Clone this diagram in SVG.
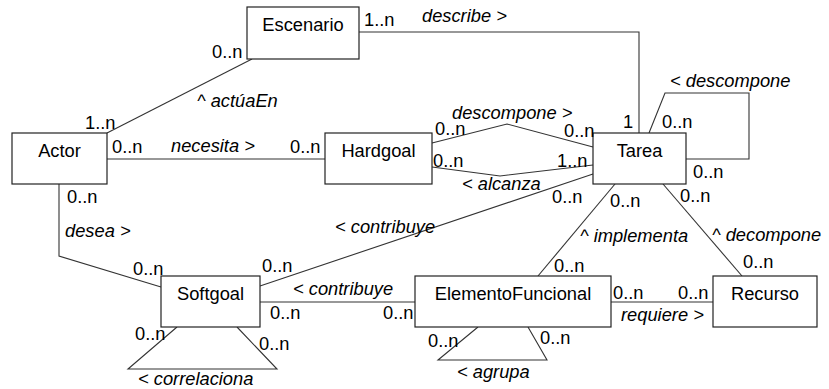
<svg xmlns="http://www.w3.org/2000/svg" width="829" height="389" viewBox="0 0 829 389">
<style>
text{font-family:"Liberation Sans",Arial,sans-serif;font-size:18.3px;fill:#000}
.i{font-style:italic}
.n{text-anchor:middle}
rect{fill:#fff;stroke:#222;stroke-width:1.2}
#connectors polyline,#connectors line{fill:none;stroke:#333;stroke-width:1.1}
</style>
<rect x="0" y="0" width="829" height="389" style="stroke:none"/>
<g id="connectors">
<polyline points="359,32 639,32 639,133"/>
<line x1="107" y1="133" x2="252" y2="59"/>
<line x1="107" y1="159" x2="325" y2="159"/>
<polyline points="432,143 507,124 593,147"/>
<polyline points="432,167 500,176 593,165"/>
<polyline points="649,133 665,93 749,93 749,159 686,159"/>
<line x1="593" y1="174" x2="260" y2="286"/>
<polyline points="59,184 59,256 161,287"/>
<line x1="260" y1="302" x2="415" y2="302"/>
<line x1="615" y1="184" x2="538" y2="276"/>
<line x1="663" y1="184" x2="742" y2="276"/>
<line x1="611" y1="302" x2="713" y2="302"/>
<polyline points="177,327 128,369 277,369 237,327"/>
<polyline points="478,327 438,360 547,360 528,327"/>
</g>
<g id="Escenario"><rect x="247" y="7" width="112" height="52"/><text class="n" x="303" y="31">Escenario</text></g>
<g id="Actor"><rect x="12" y="133" width="95" height="51"/><text class="n" x="59.5" y="157">Actor</text></g>
<g id="Hardgoal"><rect x="325" y="133" width="107" height="51"/><text class="n" x="378.5" y="157">Hardgoal</text></g>
<g id="Tarea"><rect x="593" y="133" width="93" height="51"/><text class="n" x="639.5" y="157">Tarea</text></g>
<g id="Softgoal"><rect x="161" y="276" width="99" height="51"/><text class="n" x="210.5" y="300">Softgoal</text></g>
<g id="ElementoFuncional"><rect x="415" y="276" width="196" height="51"/><text class="n" x="513" y="300">ElementoFuncional</text></g>
<g id="Recurso"><rect x="713" y="276" width="104" height="51"/><text class="n" x="765" y="300">Recurso</text></g>
<g id="labels">
<text x="364" y="26">1..n</text>
<text class="i" x="422" y="22">describe &gt;</text>
<text x="212" y="58">0..n</text>
<text class="i" x="197" y="107">^ actúaEn</text>
<text x="85" y="129">1..n</text>
<text x="112" y="153">0..n</text>
<text class="i" x="171" y="152">necesita &gt;</text>
<text x="290" y="153">0..n</text>
<text class="i" x="452" y="119">descompone &gt;</text>
<text x="435" y="135">0..n</text>
<text x="564" y="137">0..n</text>
<text x="433" y="167">0..n</text>
<text x="557" y="167">1..n</text>
<text class="i" x="462" y="190">&lt; alcanza</text>
<text x="623" y="128">1</text>
<text x="662" y="128">0..n</text>
<text class="i" x="670" y="87">&lt; descompone</text>
<text x="693" y="178">0..n</text>
<text x="552" y="203">0..n</text>
<text x="610" y="207">0..n</text>
<text x="680" y="202">0..n</text>
<text class="i" x="580" y="242">^ implementa</text>
<text class="i" x="712" y="241">^ decompone</text>
<text x="554" y="272">0..n</text>
<text x="743" y="268">0..n</text>
<text x="613" y="299">0..n</text>
<text x="678" y="299">0..n</text>
<text class="i" x="621" y="321">requiere &gt;</text>
<text x="383" y="319">0..n</text>
<text class="i" x="293" y="295">&lt; contribuye</text>
<text x="270" y="319">0..n</text>
<text x="262" y="272">0..n</text>
<text class="i" x="335" y="233">&lt; contribuye</text>
<text x="133" y="275">0..n</text>
<text class="i" x="65" y="237">desea &gt;</text>
<text x="67" y="203">0..n</text>
<text x="135" y="340">0..n</text>
<text x="259" y="350">0..n</text>
<text class="i" x="138" y="385">&lt; correlaciona</text>
<text x="428" y="347">0..n</text>
<text x="540" y="344">0..n</text>
<text class="i" x="457" y="378">&lt; agrupa</text>
</g>
</svg>
